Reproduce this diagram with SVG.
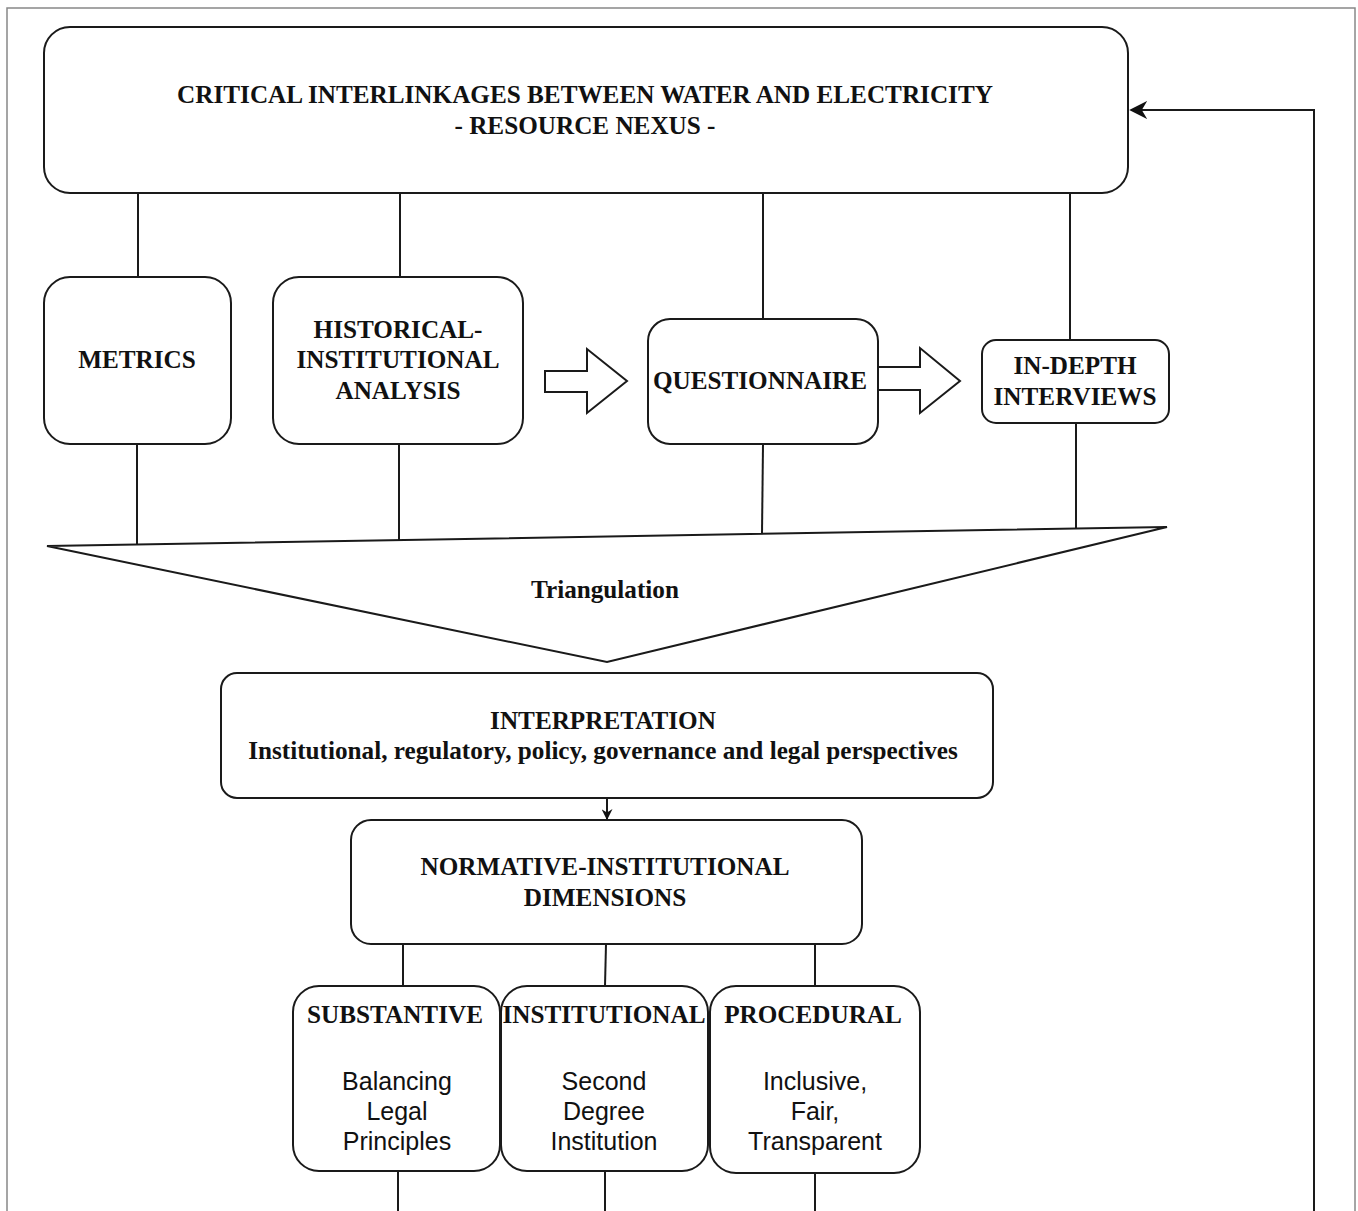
<svg xmlns="http://www.w3.org/2000/svg" width="1358" height="1211" viewBox="0 0 1358 1211">
<defs>
<style>
.box{fill:#fff;stroke:#1a1a1a;stroke-width:2}
.ln{fill:none;stroke:#1a1a1a;stroke-width:2}
.t{font-family:"Liberation Serif","Times New Roman",serif;font-weight:bold;font-size:25.2px;fill:#111;text-anchor:middle}
.s{font-family:"Liberation Sans",Arial,sans-serif;font-size:25px;fill:#111;text-anchor:middle}
</style>
<marker id="ah" viewBox="0 0 10 10" refX="9" refY="5" markerWidth="11" markerHeight="11" markerUnits="userSpaceOnUse" orient="auto"><path d="M0,0 L10,5 L0,10 L3,5 Z" fill="#111"/></marker>
<marker id="ahb" viewBox="0 0 10 10" refX="9" refY="5" markerWidth="18" markerHeight="18" markerUnits="userSpaceOnUse" orient="auto"><path d="M0,0 L10,5 L0,10 L3,5 Z" fill="#111"/></marker>
</defs>
<rect x="0" y="0" width="1358" height="1211" fill="#fff"/>
<rect x="7" y="8" width="1348" height="1220" fill="none" stroke="#888" stroke-width="1.5"/>
<g id="connectors">
<line class="ln" x1="138" y1="193" x2="138" y2="277"/>
<line class="ln" x1="400" y1="193" x2="400" y2="277"/>
<line class="ln" x1="763" y1="193" x2="763" y2="319"/>
<line class="ln" x1="1070" y1="193" x2="1070" y2="340"/>
<line class="ln" x1="137" y1="444" x2="137" y2="546"/>
<line class="ln" x1="399" y1="444" x2="399" y2="541"/>
<line class="ln" x1="763" y1="444" x2="762" y2="534"/>
<line class="ln" x1="1076" y1="423" x2="1076" y2="528"/>
<line class="ln" x1="607" y1="798" x2="607" y2="819" marker-end="url(#ah)"/>
<line class="ln" x1="403" y1="944" x2="403" y2="986"/>
<line class="ln" x1="606" y1="944" x2="605" y2="986"/>
<line class="ln" x1="815" y1="944" x2="815" y2="986"/>
<line class="ln" x1="398" y1="1171" x2="398" y2="1215"/>
<line class="ln" x1="605" y1="1171" x2="605" y2="1215"/>
<line class="ln" x1="815" y1="1173" x2="815" y2="1215"/>
<polyline class="ln" points="1314,1215 1314,110 1131,110" marker-end="url(#ahb)"/>
<path class="box" d="M545,371 L587,371 L587,349 L627,381 L587,413 L587,392 L545,392 Z"/>
<path class="box" d="M878,367 L920,367 L920,348 L960,381 L920,413 L920,390 L878,390 Z"/>
</g>
<g id="top">
<rect class="box" x="44" y="27" width="1084" height="166" rx="26"/>
<text class="t" x="585" y="103">CRITICAL INTERLINKAGES BETWEEN WATER AND ELECTRICITY</text>
<text class="t" x="585" y="134">- RESOURCE NEXUS -</text>
</g>
<g id="metrics">
<rect class="box" x="44" y="277" width="187" height="167" rx="26"/>
<text class="t" x="137" y="368">METRICS</text>
</g>
<g id="historical">
<rect class="box" x="273" y="277" width="250" height="167" rx="26"/>
<text class="t" x="398" y="338">HISTORICAL-</text>
<text class="t" x="398" y="368">INSTITUTIONAL</text>
<text class="t" x="398" y="399">ANALYSIS</text>
</g>
<g id="questionnaire">
<rect class="box" x="648" y="319" width="230" height="125" rx="22"/>
<text class="t" x="760" y="389">QUESTIONNAIRE</text>
</g>
<g id="interviews">
<rect class="box" x="982" y="340" width="187" height="83" rx="14"/>
<text class="t" x="1075" y="374">IN-DEPTH</text>
<text class="t" x="1075" y="405">INTERVIEWS</text>
</g>
<g id="triangulation">
<path class="box" d="M47,546 L1167,527 L607,662 Z"/>
<text class="t" x="605" y="598">Triangulation</text>
</g>
<g id="interpretation">
<rect class="box" x="221" y="673" width="772" height="125" rx="16"/>
<text class="t" x="603" y="729">INTERPRETATION</text>
<text class="t" x="603" y="759">Institutional, regulatory, policy, governance and legal perspectives</text>
</g>
<g id="normative">
<rect class="box" x="351" y="820" width="511" height="124" rx="20"/>
<text class="t" x="605" y="875">NORMATIVE-INSTITUTIONAL</text>
<text class="t" x="605" y="906">DIMENSIONS</text>
</g>
<g id="substantive">
<rect class="box" x="293" y="986" width="207" height="185" rx="26"/>
<text class="t" x="395" y="1023">SUBSTANTIVE</text>
<text class="s" x="397" y="1090">Balancing</text>
<text class="s" x="397" y="1120">Legal</text>
<text class="s" x="397" y="1150">Principles</text>
</g>
<g id="institutional">
<rect class="box" x="501" y="986" width="207" height="185" rx="26"/>
<text class="t" x="604" y="1023">INSTITUTIONAL</text>
<text class="s" x="604" y="1090">Second</text>
<text class="s" x="604" y="1120">Degree</text>
<text class="s" x="604" y="1150">Institution</text>
</g>
<g id="procedural">
<rect class="box" x="710" y="986" width="210" height="187" rx="26"/>
<text class="t" x="813" y="1023">PROCEDURAL</text>
<text class="s" x="815" y="1090">Inclusive,</text>
<text class="s" x="815" y="1120">Fair,</text>
<text class="s" x="815" y="1150">Transparent</text>
</g>
</svg>
